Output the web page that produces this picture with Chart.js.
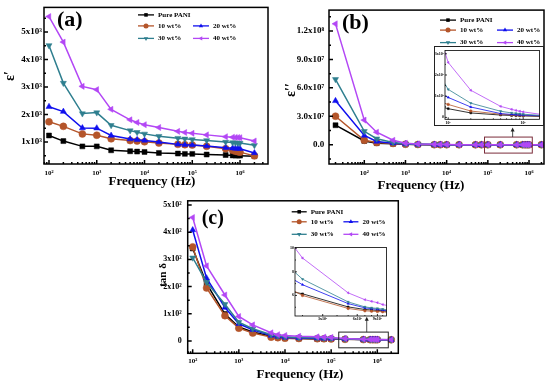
<!DOCTYPE html>
<html>
<head>
<meta charset="utf-8">
<script src="https://cdn.jsdelivr.net/npm/chart.js@4.4.1/dist/chart.umd.min.js"></script>
<style>
  html, body { margin: 0; padding: 0; background: #fff; }
  #wrap { position: relative; width: 550px; height: 383px; overflow: hidden; }
  canvas { position: absolute; }
</style>
</head>
<body>
<div id="wrap">
  <canvas id="ca" width="275" height="192" style="left:0;top:0"></canvas>
  <canvas id="cb" width="275" height="194" style="left:275px;top:0"></canvas>
  <canvas id="cc" width="270" height="193" style="left:140px;top:190px"></canvas>
  <canvas id="ib" width="110" height="80" style="left:434px;top:46px"></canvas>
  <canvas id="ic" width="106" height="82" style="left:285px;top:243px"></canvas>
</div>
<script>
// Dielectric data of PANI composites: (a) eps', (b) eps'', (c) tan delta.
const SERIES  = ['Pure PANI', '10 wt%', '20 wt%', '30 wt%', '40 wt%'];
const COLORS  = ['#000000', '#b4552a', '#1010ee', '#2f7f8f', '#b347f5'];
const MARKERS = [['rect', 0], ['circle', 0], ['triangle', 0], ['triangle', 180], ['triangle', 270]];

// frequencies (Hz)
const FREQ   = [1e2, 2e2, 5e2, 1e3, 2e3, 5e3, 7e3, 1e4, 2e4, 5e4, 7e4, 1e5, 2e5, 5e5, 7e5, 8e5, 9e5, 1e6, 2e6];
const FREQ_B = [20, 1e2, 2e2, 5e2, 1e3, 2e3, 5e3, 7e3, 1e4, 2e4, 5e4, 7e4, 1e5, 2e5, 5e5, 7e5, 8e5, 9e5, 1e6, 2e6];

// (a) real permittivity
const A_PURE = [1240, 1036, 845, 845, 702, 667, 655, 643, 607, 583, 571, 571, 548, 530, 515, 512, 510, 508, 490];
const A_10   = [1738, 1571, 1298, 1250, 1119, 1055, 1036, 1012, 964, 917, 905, 893, 845, 762, 700, 670, 650, 635, 500];
const A_20   = [2286, 2107, 1512, 1506, 1238, 1110, 1083, 1060, 1000, 917, 905, 893, 857, 798, 780, 770, 765, 760, 607];
const A_30   = [4512, 3143, 2036, 2071, 1610, 1417, 1357, 1298, 1214, 1143, 1119, 1095, 1060, 1000, 985, 975, 970, 964, 881];
const A_40   = [5560, 4632, 3024, 2905, 2190, 1810, 1714, 1631, 1530, 1390, 1350, 1320, 1262, 1195, 1175, 1170, 1165, 1160, 1040];

// (b) imaginary permittivity
const B_PURE = [2.06e7, 4.0e6, 1.7e6, 1.0e6, 4.0e5, 1.8e5, 7.5e4, 5.5e4, 4.0e4, 2.0e4, 8.0e3, 5.5e3, 4.1e3, 2.1e3, 1.1e3, 900, 800, 750, 700, 400];
const B_10   = [3.01e7, 4.7e6, 2.3e6, 1.4e6, 5.5e5, 2.5e5, 1.0e5, 7.5e4, 5.5e4, 2.8e4, 1.2e4, 8.0e3, 6.1e3, 3.0e3, 1.5e3, 1.2e3, 1.1e3, 1.0e3, 900, 500];
const B_20   = [4.63e7, 9.8e6, 3.4e6, 1.7e6, 7.0e5, 3.5e5, 1.5e5, 1.1e5, 8.0e4, 4.0e4, 1.8e4, 1.22e4, 9.4e3, 4.9e3, 1.8e3, 1.4e3, 1.3e3, 1.2e3, 1.1e3, 600];
const B_30   = [6.9e7, 1.42e7, 6.4e6, 2.4e6, 1.0e6, 5.0e5, 2.2e5, 1.6e5, 1.2e5, 6.5e4, 3.2e4, 2.24e4, 1.32e4, 6.7e3, 2.9e3, 2.1e3, 1.9e3, 1.7e3, 1.5e3, 800];
const B_40   = [1.275e8, 2.6e7, 1.32e7, 4.7e6, 1.7e6, 9.0e5, 4.0e5, 3.0e5, 2.2e5, 1.2e5, 6.0e4, 4.3e4, 2.59e4, 1.28e4, 5.2e3, 3.8e3, 3.3e3, 2.9e3, 2.6e3, 1.1e3];

// (c) loss tangent
const C_PURE = [340, 211, 99, 51, 33, 17, 13, 10, 8.5, 7.5, 7.1, 6.74, 6.14, 5.03, 4.81, 4.77, 4.73, 4.70, 4.3];
const C_10   = [346, 195, 93, 47, 29, 14, 12, 10, 9.0, 8.2, 7.8, 7.54, 6.0, 4.9, 4.70, 4.67, 4.64, 4.62, 4.2];
const C_20   = [408, 231, 123, 63, 41, 20, 16, 13, 11, 9.5, 9.0, 8.58, 6.91, 5.31, 4.95, 4.88, 4.82, 4.76, 4.3];
const C_30   = [306, 216, 135, 69, 45, 23, 18, 15, 13, 11.5, 10.8, 10.0, 7.38, 5.45, 5.03, 4.95, 4.90, 4.84, 4.4];
const C_40   = [454, 276, 169, 90, 59, 30, 23, 20, 17, 15, 14, 13, 9.17, 6.22, 5.64, 5.50, 5.39, 5.23, 4.6];

// tick values and labels
const X_TICKS  = [1e2, 1e3, 1e4, 1e5, 1e6];
const X_LABELS = ['10²', '10³', '10⁴', '10⁵', '10⁶'];
const A_Y_TICKS  = [1000, 2000, 3000, 4000, 5000];
const A_Y_LABELS = ['1x10³', '2x10³', '3x10³', '4x10³', '5x10³'];
const B_Y_TICKS  = [0, 3e7, 6e7, 9e7, 1.2e8];
const B_Y_LABELS = ['0.0', '3.0x10⁷', '6.0x10⁷', '9.0x10⁷', '1.2x10⁸'];
const C_Y_TICKS  = [0, 100, 200, 300, 400, 500];
const C_Y_LABELS = ['0', '1x10²', '2x10²', '3x10²', '4x10²', '5x10²'];
const IB_X_TICKS  = [1e5, 1e6];
const IB_X_LABELS = ['10⁵', '10⁶'];
const IB_Y_TICKS  = [0, 1e4, 2e4, 3e4];
const IB_Y_LABELS = ['0', '1x10⁴', '2x10⁴', '3x10⁴'];
const IC_X_TICKS  = [3e5, 6e5, 9e5];
const IC_X_LABELS = ['3x10⁵', '6x10⁵', '9x10⁵'];
const IC_Y_TICKS  = [6, 8, 10];
const IC_Y_LABELS = ['6', '8', '10'];

const FONT = '"Liberation Serif", "Times New Roman", serif';
Chart.defaults.font.family = FONT;
Chart.defaults.color = '#000';

const PANELS = {};

// Frame, inward ticks, titles, panel letter, legend, zoom box + arrow.
const panelPlugin = {
  id: 'panel',
  beforeDraw(chart) {
    const p = PANELS[chart.canvas.id];
    if (!p.inset) return;
    const { ctx, chartArea: a } = chart;
    ctx.save();
    ctx.fillStyle = '#fff';
    if (p.outerBox) ctx.fillRect(0, 0, chart.width, chart.height);
    else ctx.fillRect(a.left, a.top, a.right - a.left, a.bottom - a.top);
    ctx.restore();
  },
  afterDatasetsDraw(chart) {
    const p = PANELS[chart.canvas.id];
    const { ctx, chartArea: a, scales: { x, y } } = chart;
    ctx.save();
    ctx.strokeStyle = '#000';
    ctx.lineWidth = p.frameWidth;

    // inward ticks on the log x axis
    const xMaj = x.ticks.map(t => t.value);
    ctx.beginPath();
    for (let d = Math.floor(Math.log10(x.min)); d <= Math.floor(Math.log10(x.max)); d++) {
      for (let m = 1; m <= 9; m++) {
        const v = m * Math.pow(10, d);
        if (v < x.min || v > x.max) continue;
        const major = xMaj.some(t => Math.abs(t / v - 1) < 1e-6);
        const px = x.getPixelForValue(v);
        ctx.moveTo(px, a.bottom);
        ctx.lineTo(px, a.bottom - (major ? p.tick[0] : p.tick[1]));
      }
    }
    // inward ticks on the y axis
    const yMaj = y.ticks.map(t => t.value);
    const n0 = Math.ceil(y.min / p.yMinor), n1 = Math.floor(y.max / p.yMinor);
    for (let n = n0; n <= n1; n++) {
      const v = n * p.yMinor;
      const major = yMaj.some(t => Math.abs(t - v) < p.yMinor * 1e-6);
      const py = y.getPixelForValue(v);
      ctx.moveTo(a.left, py);
      ctx.lineTo(a.left + (major ? p.tick[0] : p.tick[1]), py);
    }
    ctx.stroke();
    ctx.strokeRect(a.left, a.top, a.right - a.left, a.bottom - a.top);

    // zoom box and arrow to the inset
    if (p.box) {
      const L = x.getPixelForValue(p.box[0]), R = x.getPixelForValue(p.box[1]);
      const B = y.getPixelForValue(p.box[2]), T = y.getPixelForValue(p.box[3]);
      ctx.strokeStyle = p.boxColor;
      ctx.lineWidth = 1;
      ctx.strokeRect(L, T, R - L, B - T);
      const ax = x.getPixelForValue(p.arrow[0]);
      const y0 = y.getPixelForValue(p.arrow[1]), y1 = y.getPixelForValue(p.arrow[2]);
      ctx.strokeStyle = '#222';
      ctx.fillStyle = '#222';
      ctx.lineWidth = 0.8;
      ctx.beginPath();
      ctx.moveTo(ax, y0);
      ctx.lineTo(ax, y1 + 3);
      ctx.stroke();
      ctx.beginPath();
      ctx.moveTo(ax, y1);
      ctx.lineTo(ax - 2, y1 + 4);
      ctx.lineTo(ax + 2, y1 + 4);
      ctx.closePath();
      ctx.fill();
    }
    ctx.restore();
  },
  afterDraw(chart) {
    const p = PANELS[chart.canvas.id];
    const { ctx, chartArea: a } = chart;
    ctx.save();
    ctx.fillStyle = '#000';
    ctx.textBaseline = 'middle';

    if (p.outerBox) {
      ctx.strokeStyle = '#222';
      ctx.lineWidth = 1;
      ctx.strokeRect(0.5, 0.5, chart.width - 1, chart.height - 1);
    }
    if (p.xTitle) {
      ctx.textAlign = 'center';
      ctx.font = `bold 13px ${FONT}`;
      ctx.fillText(p.xTitle, p.xTitlePos[0], p.xTitlePos[1]);
      ctx.save();
      ctx.translate(p.yTitlePos[0], p.yTitlePos[1]);
      ctx.rotate(-Math.PI / 2);
      ctx.font = `bold ${p.yTitleSize}px ${FONT}`;
      ctx.fillText(p.yTitle, 0, 0);
      ctx.restore();
    }
    if (p.label) {
      ctx.textAlign = 'left';
      ctx.font = `bold ${p.labelSize}px ${FONT}`;
      ctx.fillText(p.label, a.left + p.labelPos[0], a.top + p.labelPos[1]);
    }
    if (p.legend) {
      const Lg = p.legend;
      const slots = [[0, 0], [1, 0], [1, 1], [2, 0], [2, 1]];
      ctx.textAlign = 'left';
      ctx.font = `bold ${Lg.font}px ${FONT}`;
      chart.data.datasets.forEach((ds, i) => {
        const [r, c] = slots[i];
        const x0 = a.left + Lg.dx + c * Lg.gap;
        const yy = a.top + Lg.rows[r];
        ctx.strokeStyle = ds.borderColor;
        ctx.lineWidth = 1.3;
        ctx.beginPath();
        ctx.moveTo(x0, yy);
        ctx.lineTo(x0 + Lg.len, yy);
        ctx.stroke();
        ctx.fillStyle = ds.borderColor;
        Chart.helpers.drawPoint(ctx, { pointStyle: ds.pointStyle, rotation: ds.pointRotation, radius: Lg.radius, borderWidth: 0 }, x0 + Lg.len / 2, yy);
        ctx.fillStyle = '#000';
        ctx.fillText(ds.label, x0 + Lg.len + Lg.textGap, yy);
      });
    }
    ctx.restore();
  }
};

function makeChart(id, p) {
  PANELS[id] = p;
  return new Chart(document.getElementById(id), {
    type: 'line',
    data: {
      datasets: p.values.map((vals, i) => ({
        label: SERIES[i],
        data: p.freq.map((f, k) => ({ x: f, y: vals[k] })),
        borderColor: COLORS[i],
        backgroundColor: COLORS[i],
        pointBackgroundColor: COLORS[i],
        pointBorderColor: COLORS[i],
        pointBorderWidth: 0.5,
        pointStyle: MARKERS[i][0],
        pointRotation: MARKERS[i][1],
        pointRadius: p.radius,
        borderWidth: p.lineWidth,
        tension: 0,
        order: SERIES.length - i,   // 40 wt% on top
        clip: p.clip
      }))
    },
    options: {
      responsive: false,
      animation: false,
      events: [],
      layout: { padding: p.pad },
      plugins: { legend: { display: false }, tooltip: { enabled: false } },
      scales: {
        x: {
          type: 'logarithmic',
          min: p.xRange[0],
          max: p.xRange[1],
          grid: { display: false, drawTicks: false },
          border: { display: false },
          afterBuildTicks: s => { s.ticks = p.xTicks.map(v => ({ value: v })); },
          afterFit: s => { s.height = p.xH; },
          ticks: {
            autoSkip: false, maxRotation: 0, padding: p.xTickPad,
            font: { size: p.xTickFont, weight: 'bold' },
            callback: (v, i) => p.xLabels[i]
          }
        },
        y: {
          type: 'linear',
          min: p.yRange[0],
          max: p.yRange[1],
          grid: { display: false, drawTicks: false },
          border: { display: false },
          afterBuildTicks: s => { s.ticks = p.yTicks.map(v => ({ value: v })); },
          afterFit: s => { s.width = p.yW; },
          ticks: {
            autoSkip: false, padding: p.yTickPad,
            font: { size: p.yTickFont, weight: 'bold' },
            callback: (v, i) => p.yLabels[i]
          }
        }
      }
    },
    plugins: [panelPlugin]
  });
}

// (a)
makeChart('ca', {
  freq: FREQ, values: [A_PURE, A_10, A_20, A_30, A_40],
  pad: { left: 0, top: 5, right: 7, bottom: 0 }, xH: 28, yW: 44,
  xRange: [78.6, 3.85e6], yRange: [204, 5893],
  xTicks: X_TICKS, xLabels: X_LABELS, yTicks: A_Y_TICKS, yLabels: A_Y_LABELS,
  xTickFont: 7, yTickFont: 9, xTickPad: 4.5, yTickPad: 2,
  yMinor: 500, tick: [4, 2], frameWidth: 1.5, radius: 3.5, lineWidth: 1.5,
  xTitle: 'Frequency (Hz)', xTitlePos: [152, 182],
  yTitle: 'ε′', yTitleSize: 14, yTitlePos: [10, 76],
  label: '(a)', labelSize: 22, labelPos: [13, 12.5],
  legend: { dx: 94, gap: 55, rows: [7.5, 18.5, 31], len: 16, textGap: 4, font: 7, radius: 2.5 }
});

// (b)
makeChart('cb', {
  freq: FREQ_B, values: [B_PURE, B_10, B_20, B_30, B_40],
  pad: { left: 0, top: 4, right: 6, bottom: 0 }, xH: 30, yW: 54,
  xRange: [13.9, 2.31e6], yRange: [-2.03e7, 1.42e8],
  xTicks: X_TICKS, xLabels: X_LABELS, yTicks: B_Y_TICKS, yLabels: B_Y_LABELS,
  xTickFont: 7, yTickFont: 9, xTickPad: 4.8, yTickPad: 4.7,
  yMinor: 1.5e7, tick: [4, 2], frameWidth: 1.5, radius: 3.5, lineWidth: 1.5,
  xTitle: 'Frequency (Hz)', xTitlePos: [146, 186],
  yTitle: 'ε′′', yTitleSize: 14, yTitlePos: [16.7, 90],
  label: '(b)', labelSize: 22, labelPos: [13, 13.5],
  legend: { dx: 111, gap: 57, rows: [10, 20, 32.5], len: 16, textGap: 4, font: 7, radius: 2.5 },
  box: [8.3e4, 1.2e6, -8.8e6, 8.1e6], boxColor: '#7b2d3b', arrow: [4.0e5, 8.1e6, 1.83e7]
});

// (c)
makeChart('cc', {
  freq: FREQ, values: [C_PURE, C_10, C_20, C_30, C_40],
  pad: { left: 0, top: 8, right: 11.7, bottom: 0 }, xH: 29.7, yW: 47.7,
  xRange: [78, 2.85e6], yRange: [-45.5, 515.5],
  xTicks: X_TICKS, xLabels: X_LABELS, yTicks: C_Y_TICKS, yLabels: C_Y_LABELS,
  xTickFont: 7, yTickFont: 8, xTickPad: 4, yTickPad: 6,
  yMinor: 50, tick: [4, 2], frameWidth: 1.5, radius: 3.5, lineWidth: 1.5,
  xTitle: 'Frequency (Hz)', xTitlePos: [160, 185],
  yTitle: 'tan δ', yTitleSize: 11, yTitlePos: [23, 85],
  label: '(c)', labelSize: 20, labelPos: [14, 18.5],
  legend: { dx: 104, gap: 51.7, rows: [11, 21, 33.5], len: 15, textGap: 4, font: 7, radius: 2.5 },
  box: [1.46e5, 1.73e6, -25.3, 32.5], boxColor: '#222', arrow: [5.9e5, 32.5, 89]
});

// inset of (b)
makeChart('ib', {
  freq: FREQ_B, values: [B_PURE, B_10, B_20, B_30, B_40],
  pad: { left: 0, top: 2.3, right: 2.3, bottom: 0 }, xH: 6.7, yW: 11,
  xRange: [9.06e4, 1.65e6], yRange: [-900, 3.155e4],
  xTicks: IB_X_TICKS, xLabels: IB_X_LABELS, yTicks: IB_Y_TICKS, yLabels: IB_Y_LABELS,
  xTickFont: 4, yTickFont: 4, xTickPad: 1, yTickPad: 1,
  yMinor: 5e3, tick: [2, 1], frameWidth: 0.8, radius: 1.3, lineWidth: 0.8, clip: 0,
  inset: true, outerBox: true
});

// inset of (c)
makeChart('ic', {
  freq: FREQ, values: [C_PURE, C_10, C_20, C_30, C_40],
  pad: { left: 0, top: 3, right: 2.7, bottom: 0 }, xH: 9, yW: 10,
  xRange: [1.72e5, 1.08e6], yRange: [4.26, 10.06],
  xTicks: IC_X_TICKS, xLabels: IC_X_LABELS, yTicks: IC_Y_TICKS, yLabels: IC_Y_LABELS,
  xTickFont: 4, yTickFont: 4, xTickPad: 1, yTickPad: 1,
  yMinor: 1, tick: [2, 1], frameWidth: 0.8, radius: 1.3, lineWidth: 0.8, clip: 0,
  inset: true, outerBox: false
});
</script>
</body>
</html>
